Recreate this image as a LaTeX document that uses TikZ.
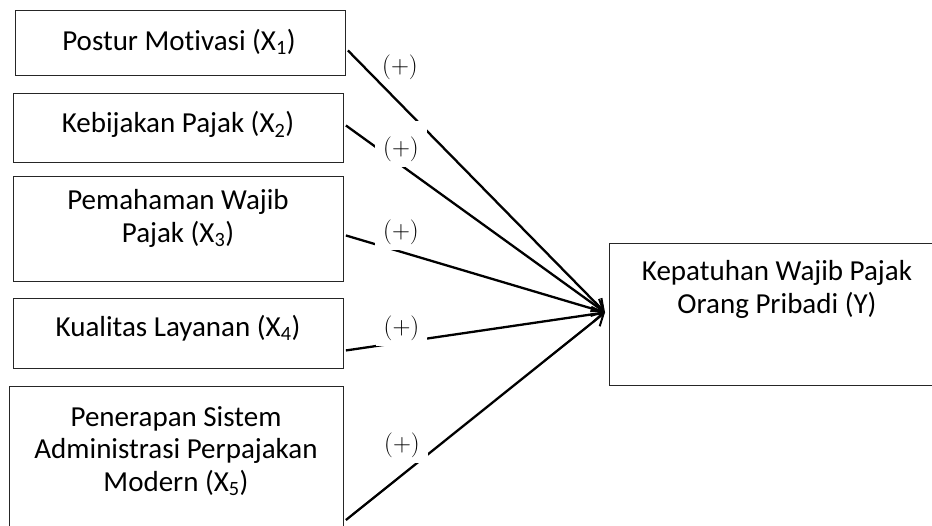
\documentclass[tikz,border=0pt]{standalone}
\usepackage{fontspec}
\setmainfont{Carlito}[Ligatures=NoCommon]
\usetikzlibrary{arrows.meta,calc}
\begin{document}
\begin{tikzpicture}[x=1pt,y=-1pt,
  box/.style={draw=black!85, line width=0.9pt, anchor=north west, inner sep=0pt},
  txt/.style={anchor=north, align=center, font=\fontsize{29}{32.5}\selectfont, inner sep=0pt},
  conn/.style={line width=2.3pt, -{Straight Barb[length=11pt,width=15pt,line width=2pt]}},
  sign/.style={font=\fontsize{26.5}{30}\selectfont, inner xsep=8pt, inner ysep=5pt, text height=29pt, text depth=6.5pt, anchor=base},
  signw/.style={sign, fill=white}]
\useasboundingbox (0,0) rectangle (932,525);
% boxes
\node[box, minimum width=330pt, minimum height=65pt] (x1) at (15,10) {};
\node[box, minimum width=330pt, minimum height=69pt] (x2) at (13,93) {};
\node[box, minimum width=330pt, minimum height=105pt] (x3) at (13,176) {};
\node[box, minimum width=330pt, minimum height=70pt] (x4) at (13,298) {};
\node[box, minimum width=334pt, minimum height=160pt] (x5) at (9,386) {};
\node[box, minimum width=340pt, minimum height=142pt] (y) at (609,243) {};
% texts
\node[txt] (t1) at (179,29) {Postur Motivasi (X\textsubscript{1})};
\node[txt] (t2) at (178,111) {Kebijakan Pajak (X\textsubscript{2})};
\node[txt] (t3) at (178,189.5) {Pemahaman Wajib\\Pajak (X\textsubscript{3})};
\node[txt] (t4) at (178,315) {Kualitas Layanan (X\textsubscript{4})};
\node[txt] (t5) at (176,406) {Penerapan Sistem\\Administrasi Perpajakan\\Modern (X\textsubscript{5})};
\node[txt] (ty) at (777,260.5) {Kepatuhan Wajib Pajak\\Orang Pribadi (Y)};
% connectors
\coordinate (tip) at ($(y.west)+(-4,-2)$);
\draw[conn] ($(x1.east)+(2,7.5)$) -- (tip);
\draw[conn] ($(x2.east)+(2,-2.5)$) -- (tip);
\draw[conn] ($(x3.east)+(2,6.5)$) -- (tip);
\draw[conn] ($(x4.east)+(2,17)$) -- (tip);
\draw[conn] ($(x5.north east)+(2,134)$) -- (tip);
% signs
\node[sign] (s1) at (400,73) {$(+)$};
\node[signw] (s2) at (401,155) {$(+)$};
\node[signw] (s3) at (401,238) {$(+)$};
\node[signw] (s4) at (401.5,334) {$(+)$};
\node[signw] (s5) at (402,451) {$(+)$};
\end{tikzpicture}
\end{document}
